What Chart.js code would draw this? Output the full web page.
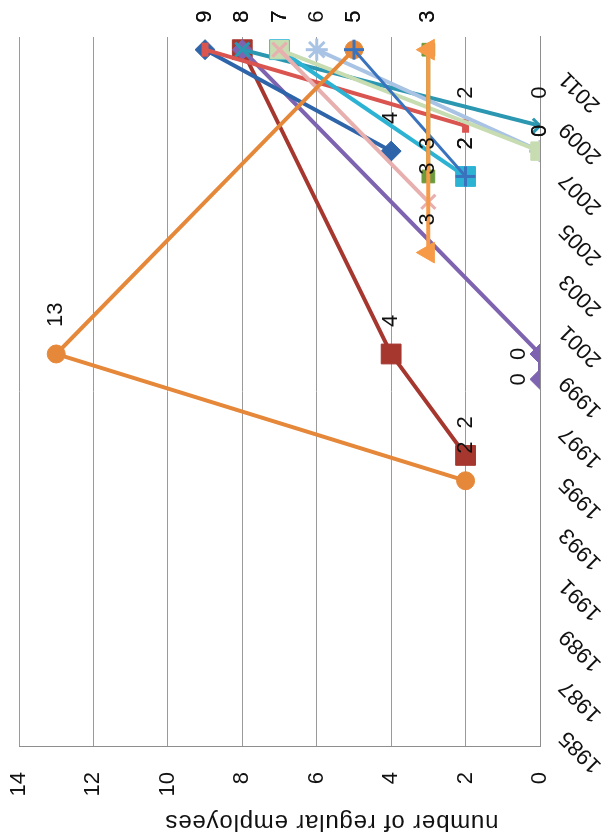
<!DOCTYPE html>
<html>
<head>
<meta charset="utf-8">
<script src="https://cdn.jsdelivr.net/npm/chart.js@4.4.1/dist/chart.umd.min.js"></script>
<style>
  html, body { margin: 0; padding: 0; background: #fff; }
  #wrap { position: relative; width: 614px; height: 839px; overflow: hidden; background: #fff; }
  #c { position: absolute; left: 0; top: 0; width: 839px; height: 614px;
       transform-origin: 0 0; transform: translate(0px, 839px) rotate(-90deg); }
</style>
</head>
<body>
<div id="wrap"><canvas id="c" width="839" height="614"></canvas></div>
<script>
// ---- categories (years) ----
const yearLabels = ['1985','1986','1987','1988','1989','1990','1991','1992','1993','1994',
  '1995','1996','1997','1998','1999','2000','2001','2002','2003','2004',
  '2005','2006','2007','2008','2009','2010','2011','2012'];
const shownYearTicks = ['1985','1987','1989','1991','1993','1995','1997','1999',
  '2001','2003','2005','2007','2009','2011'];
const valueTicks = [0, 2, 4, 6, 8, 10, 12, 14];
const axisTitle = 'number of regular employees';

// ---- series (years, values) ----
const darkRedYears = ['1996', '2000', '2012'];
const darkRedValues = [2, 4, 8];
const purpleYears = ['1999', '2000', '2012'];
const purpleValues = [0, 0, 8];
const tealYears = ['2009', '2012'];
const tealValues = [0, 8];
const darkBlueYears = ['2008', '2012'];
const darkBlueValues = [4, 9];
const redYears = ['2009', '2012'];
const redValues = [2, 9];
const cyanYears = ['2007', '2012'];
const cyanValues = [2, 7];
const lightBlueYears = ['2008', '2012'];
const lightBlueValues = [0, 6];
const lightGreenYears = ['2008', '2012'];
const lightGreenValues = [0, 7];
const pinkYears = ['2006', '2012'];
const pinkValues = [3, 7];
const orangeYears = ['1995', '2000', '2012'];
const orangeValues = [2, 13, 5];
const blueYears = ['2007', '2012'];
const blueValues = [2, 5];
const greenYears = ['2007', '2012'];
const greenValues = [3, 3];
const triangleYears = ['2004', '2012'];
const triangleValues = [3, 3];

function pts(years, values) { return years.map((y, i) => ({ x: y, y: values[i] })); }

const FONT = '"Liberation Sans", Arial, Helvetica, sans-serif';

function series(data, color, style, radius, extra, labelStyle) {
  return Object.assign({
    data: data,
    borderColor: color,
    backgroundColor: color,
    pointBackgroundColor: color,
    pointBorderColor: color,
    borderWidth: 4,
    pointStyle: style,
    pointRadius: radius,
    pointBorderWidth: 1,
    tension: 0,
    fill: false,
    labelStyle: labelStyle || { mode: 'right', gap: 27 }
  }, extra || {});
}

// listed bottom -> top
const dsList = [
  series(pts(darkRedYears, darkRedValues), '#A5372F', 'rect', 14),
  series(pts(purpleYears, purpleValues), '#7E63B0', 'rectRot', 10, null, { mode: 'above', gap: 21, show: [true, true, false] }),
  series(pts(tealYears, tealValues), '#2C97B1', 'crossRot', 10, { pointBorderWidth: 3 }),
  series(pts(darkBlueYears, darkBlueValues), '#2E64A9', 'rectRot', 10),
  series(pts(redYears, redValues), '#DA5450', 'line', 7, { pointBorderWidth: 7, pointRotation: 0 }),
  series(pts(cyanYears, cyanValues), '#2CB3D4', 'rect', 14),
  series(pts(lightBlueYears, lightBlueValues), '#A8C3E4', 'star', 11, { pointBorderWidth: 3 }, { mode: 'right', gap: [14, 27] }),
  series(pts(lightGreenYears, lightGreenValues), '#C7DCB1', 'rect', 13, null, { mode: 'right', gap: [14, 27] }),
  series(pts(pinkYears, pinkValues), '#E8AFAF', 'crossRot', 10, { pointBorderWidth: 3 }),
  series(pts(orangeYears, orangeValues), '#E6883A', 'circle', 9),
  series(pts(blueYears, blueValues), '#3A73BD', 'cross', 10, { pointBorderWidth: 3, borderWidth: 3 }),
  series(pts(greenYears, greenValues), '#6E9A3E', 'rect', 9),
  series(pts(triangleYears, triangleValues), '#F79A47', 'triangle', 12)
];
dsList.forEach((d, i) => { d.order = dsList.length - i; });

const valueLabels = {
  id: 'valueLabels',
  afterDatasetsDraw(chart) {
    const ctx = chart.ctx;
    ctx.save();
    ctx.font = '22px ' + FONT;
    ctx.fillStyle = '#111';
    chart.data.datasets.forEach((ds, di) => {
      const meta = chart.getDatasetMeta(di);
      const st = ds.labelStyle;
      meta.data.forEach((pt, i) => {
        if (st.show && !st.show[i]) return;
        const v = String(ds.data[i].y);
        const gap = Array.isArray(st.gap) ? st.gap[i] : st.gap;
        ctx.textBaseline = 'middle';
        if (st.mode === 'above') {
          ctx.textAlign = 'center';
          ctx.fillText(v, pt.x, pt.y - gap);
        } else {
          ctx.textAlign = 'left';
          ctx.fillText(v, pt.x + gap, pt.y);
        }
      });
    });
    ctx.restore();
  }
};

const valueAxisTitle = {
  id: 'valueAxisTitle',
  afterDraw(chart) {
    const ctx = chart.ctx;
    const y = chart.scales.y;
    ctx.save();
    ctx.font = '24px ' + FONT;
    try { ctx.letterSpacing = '0.8px'; } catch (e) {}
    ctx.fillStyle = '#111';
    ctx.textAlign = 'center';
    ctx.textBaseline = 'middle';
    ctx.translate(17, y.getPixelForValue(5.6));
    ctx.rotate(-Math.PI / 2);
    ctx.fillText(axisTitle, 0, 0);
    ctx.restore();
  }
};

new Chart(document.getElementById('c'), {
  type: 'line',
  data: { labels: yearLabels, datasets: dsList },
  options: {
    responsive: false,
    animation: false,
    devicePixelRatio: 1,
    layout: { padding: { left: 0, right: 37, top: 19, bottom: 0 } },
    plugins: { legend: { display: false }, tooltip: { enabled: false } },
    scales: {
      x: {
        type: 'category',
        offset: true,
        grid: { display: false, drawTicks: false },
        border: { display: true, color: '#8e8e8e', width: 1 },
        afterFit(scale) { scale.height = 74; scale.paddingLeft = 0; scale.paddingRight = 0; },
        ticks: {
          autoSkip: false,
          minRotation: 45,
          maxRotation: 45,
          padding: 14,
          color: '#111',
          font: { size: 22, family: FONT },
          callback(value) {
            const lab = this.getLabelForValue(value);
            return shownYearTicks.includes(lab) ? lab : '';
          }
        }
      },
      y: {
        min: 0,
        max: 14,
        afterFit(scale) { scale.width = 92; scale.paddingTop = 0; scale.paddingBottom = 0; },
        afterBuildTicks(scale) { scale.ticks = valueTicks.map(v => ({ value: v })); },
        grid: { color: '#9a9a9a', lineWidth: 1, drawTicks: false },
        border: { display: true, color: '#8e8e8e', width: 1 },
        ticks: {
          padding: 25,
          color: '#111',
          font: { size: 22, family: FONT }
        }
      }
    }
  },
  plugins: [valueLabels, valueAxisTitle]
});
</script>
</body>
</html>
